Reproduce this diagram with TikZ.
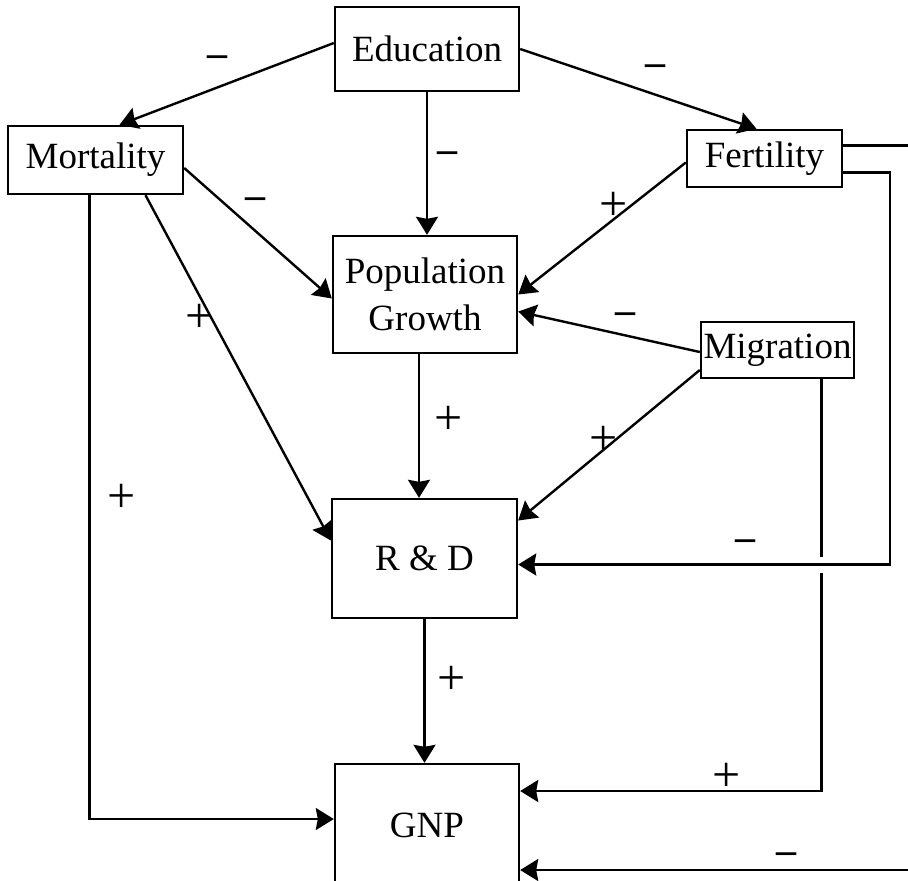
\documentclass[tikz,border=0pt]{standalone}
\usepackage{fontspec}
\setmainfont{Liberation Serif}
\usetikzlibrary{arrows.meta}

\begin{document}
\begin{tikzpicture}[x=0.5pt, y=-0.5pt,
    box/.style = {draw, line width=1.2pt, inner sep=1pt, align=center,
                  font=\fontsize{18.5pt}{23.5pt}\selectfont},
    link/.style = {line width=1.2pt, -{Stealth[length=9pt, width=11pt, inset=1pt]}},
    sign/.style = {font=\fontsize{25pt}{25pt}\selectfont, inner sep=0pt},
    minus/.style = {sign, font=\fontsize{20pt}{20pt}\selectfont\bfseries}]
    % Frame of the page
    \useasboundingbox (0,0) rectangle (908,880);

    % Boxes
    \node[box, minimum width=92pt, minimum height=42pt] (educ) at (427,49) {Education};
    \node[box, minimum width=87.5pt, minimum height=34pt] (mort) at (95.5,160) {Mortality};
    \node[box, minimum width=77.5pt, minimum height=28.5pt] (fert) at (764.5,158.5) {Fertility};
    \node[box, minimum width=92pt, minimum height=58.5pt] (popg) at (425,294.5) {Population\\Growth};
    \node[box, minimum width=76.5pt, minimum height=28pt] (migr) at (777.5,350) {Migration};
    \node[box, minimum width=92.5pt, minimum height=59.5pt] (rnd) at (424.5,558.5) {R \& D};
    \node[box, minimum width=92pt, minimum height=61pt] (gnp) at (427,825) {GNP};

    % Links from Education
    \draw[link] ([yshift=3pt]educ.west) -- ([xshift=12pt]mort.north);
    \draw[link] (educ.south) -- (educ.south |- popg.north);
    \draw[link] (educ.east) -- ([xshift=-4pt]fert.north);

    % Links from Mortality
    \draw[link] ([yshift=-4pt]mort.east) -- ([yshift=-2pt]popg.west);
    \draw[link] ([xshift=25pt]mort.south) -- ([yshift=9pt]rnd.west);
    \draw[link] ([xshift=-3pt]mort.south) |- ([yshift=3pt]gnp.west);

    % Links into Population Growth
    \draw[link] ([yshift=-2pt]fert.west) -- (popg.east);
    \draw[link] ([yshift=-1pt]migr.west) -- ([yshift=-8.5pt]popg.east);

    % Links into R & D and GNP
    \draw[link] ([xshift=-3pt]popg.south) -- ([xshift=-3pt]popg.south |- rnd.north);
    \draw[link] ([yshift=-10pt]migr.west) -- ([yshift=19pt]rnd.east);
    \draw[link] (rnd.south) -- (rnd.south |- gnp.north);

    % Long loops on the right
    \coordinate (mg) at ([xshift=22pt]migr.south);
    \coordinate (fr) at ([yshift=-3pt]rnd.east);
    \draw[link] (mg) |- ([yshift=17pt]gnp.east);
    \fill[white] ([shift={(-3pt,-4pt)}]mg |- fr) rectangle ([shift={(3pt,4pt)}]mg |- fr);
    \draw[link] ([yshift=-7pt]fert.east) -- ++(23.5pt,0) |- (fr);
    \draw[link] ([yshift=6.5pt]fert.east) -- ++(60pt,0) |- ([yshift=-22.5pt]gnp.east);

    % Signs
    \node[minus] (s1) at (217,61) {–};
    \node[minus] (s2) at (447,157) {–};
    \node[minus] (s3) at (655,70) {–};
    \node[minus] (s4) at (255,203) {–};
    \node[sign] (s5) at (200,318) {+};
    \node[sign] (s6) at (122,498) {+};
    \node[sign] (s7) at (614,206) {+};
    \node[minus] (s8) at (625,318) {–};
    \node[sign] (s9) at (449,420) {+};
    \node[sign] (s10) at (604,440) {+};
    \node[minus] (s11) at (745,545) {–};
    \node[sign] (s12) at (452,680) {+};
    \node[sign] (s13) at (727,777) {+};
    \node[minus] (s14) at (786,858) {–};
\end{tikzpicture}
\end{document}
